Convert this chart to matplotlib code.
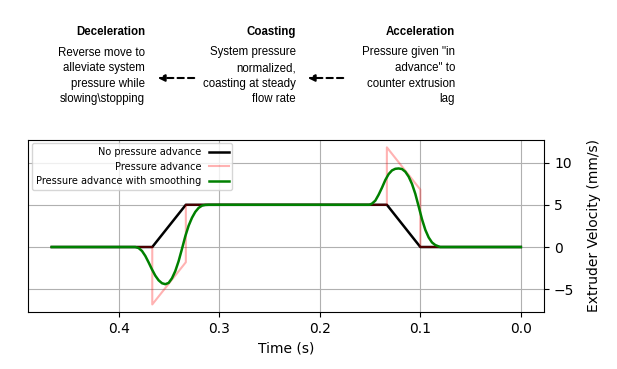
import matplotlib
matplotlib.use("Agg")
import matplotlib.pyplot as plt

# ---- data ----
t_nopa = [0.0, 0.1, 0.1333, 0.3333, 0.3667, 0.4667]
v_nopa = [0.0, 0.0, 5.0, 5.0, 0.0, 0.0]

t_pa = [0.0, 0.1, 0.1, 0.1333, 0.1333, 0.3333, 0.3333, 0.3667, 0.3667, 0.4667]
v_pa = [0.0, 0.0, 6.8, 11.8, 5.0, 5.0, -1.8, -6.8, 0.0, 0.0]

t_smooth = [0.0, 0.0803, 0.0818, 0.0851, 0.0884, 0.0917, 0.0950, 0.0983, 0.1017,
            0.1050, 0.1083, 0.1116, 0.1149, 0.1182, 0.1216, 0.1249, 0.1282,
            0.1315, 0.1348, 0.1381, 0.1415, 0.1448, 0.1481, 0.1507,
            0.3106, 0.3139, 0.3172, 0.3206, 0.3239, 0.3272, 0.3305, 0.3338,
            0.3371, 0.3405, 0.3438, 0.3471, 0.3504, 0.3537, 0.3570, 0.3604,
            0.3637, 0.3670, 0.3703, 0.3736, 0.3769, 0.3803, 0.3836, 0.4667]
v_smooth = [0.0, 0.0, 0.07, 0.23, 0.54, 1.13, 2.02, 3.27, 4.82,
            6.30, 7.47, 8.33, 8.91, 9.23, 9.30, 9.26, 9.07,
            8.64, 7.94, 7.04, 6.19, 5.49, 5.14, 5.0,
            5.0, 4.98, 4.90, 4.63, 4.16, 3.46, 2.53, 1.29,
            -0.20, -1.68, -2.85, -3.70, -4.25, -4.40, -4.29, -3.94,
            -3.39, -2.65, -1.83, -1.06, -0.47, -0.12, 0.0, 0.0]

labels = ["No pressure advance", "Pressure advance", "Pressure advance with smoothing"]
x_ticks = [0.0, 0.1, 0.2, 0.3, 0.4]
y_ticks = [-5, 0, 5, 10]

phase_titles = ["Acceleration", "Coasting", "Deceleration"]
phase_texts = ['Pressure given "in\nadvance" to\ncounter extrusion\nlag',
               'System pressure\nnormalized,\ncoasting at steady\nflow rate',
               'Reverse move to\nalleviate system\npressure while\nslowing\\stopping']

W, H = 617, 369
fig = plt.figure(figsize=(W / 100, H / 100), dpi=100)
ax = fig.add_axes([28.3 / W, 1 - 312.3 / H, (544.3 - 28.3) / W, (312.3 - 139.5) / H])

ax.plot(t_nopa, v_nopa, color="black", lw=1.8, label=labels[0])
ax.plot(t_pa, v_pa, color="red", alpha=0.3, lw=1.5, label=labels[1])
ax.plot(t_smooth, v_smooth, color="green", lw=1.8, label=labels[2])

ax.invert_xaxis()
ax.set_xticks(x_ticks)
ax.set_yticks(y_ticks)
ax.yaxis.tick_right()
ax.yaxis.set_label_position("right")
ax.grid(True)
ax.set_xlabel("Time (s)")
ax.set_ylabel("Extruder Velocity (mm/s)", labelpad=9)
ax.legend(loc="upper left", fontsize=7, markerfirst=False, borderaxespad=0.4,
          labelspacing=0.45)

ff = "Liberation Sans"
fs = 8.3
right_edges = [455, 296, 145]
for xr, ttl, body in zip(right_edges, phase_titles, phase_texts):
    fig.text(xr / W, 1 - 31.7 / H, ttl, ha="right", va="center", fontsize=fs,
             fontweight="bold", family=ff)
    fig.text(xr / W, 1 - 46.5 / H, body, ha="right", va="top", fontsize=fs,
             family=ff, linespacing=1.4)

for x0, x1 in [(346, 305), (197, 155)]:
    fig.add_artist(matplotlib.patches.FancyArrowPatch(
        (x0 / W, 1 - 78 / H), (x1 / W, 1 - 78 / H), transform=fig.transFigure,
        arrowstyle="-|>", mutation_scale=10, linestyle=(0, (3, 2)), lw=1.5,
        color="black"))

fig.savefig("out.png", dpi=100)
